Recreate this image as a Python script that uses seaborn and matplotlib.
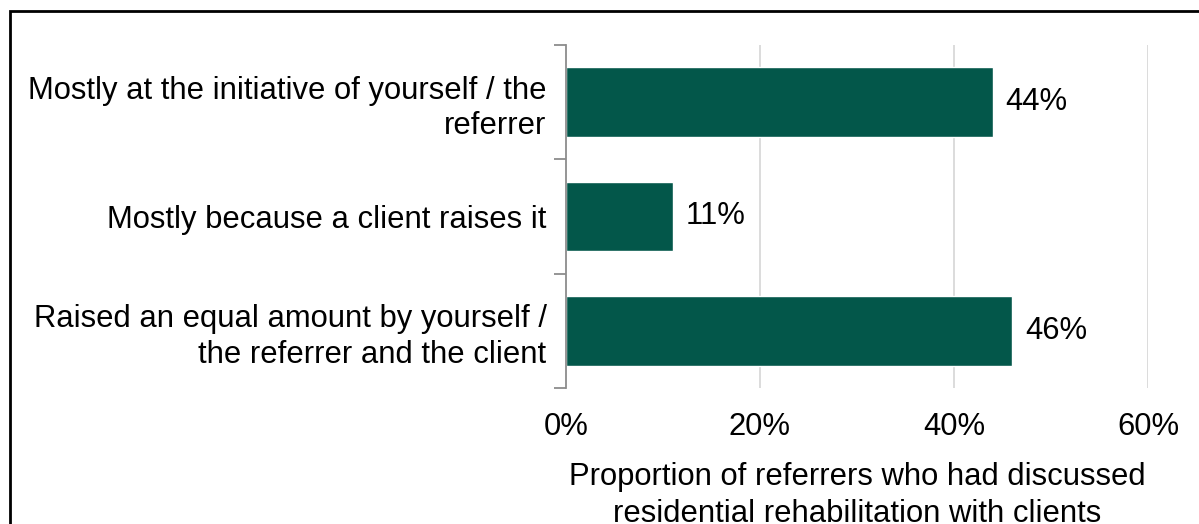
import matplotlib
matplotlib.use("Agg")
import matplotlib.pyplot as plt
from matplotlib.patches import Rectangle
from matplotlib.ticker import FuncFormatter
import seaborn as sns
import pandas as pd

categories = [
    "Mostly at the initiative of yourself / the\nreferrer",
    "Mostly because a client raises it",
    "Raised an equal amount by yourself /\nthe referrer and the client",
]
shares = [44, 11, 46]
x_ticks = [0, 20, 40, 60]
x_label = "Proportion of referrers who had discussed\nresidential rehabilitation with clients"

bar_color = "#03574A"
fs = 22.3

sns.set_theme(style="white")
plt.rcParams["font.family"] = ["Liberation Sans", "DejaVu Sans"]

df = pd.DataFrame({"category": categories, "share": shares})

fig = plt.figure(figsize=(11.99, 5.24), dpi=100)
ax = fig.add_axes([566 / 1199, 1 - 388 / 524, (1148 - 566) / 1199, (388 - 45) / 524])

sns.barplot(data=df, x="share", y="category", orient="h", color=bar_color,
            saturation=1, width=0.61, ax=ax)

ax.set_xlim(0, 60)
ax.set_ylim(2.5, -0.5)
ax.set_xticks(x_ticks)
ax.xaxis.set_major_formatter(FuncFormatter(lambda v, p: f"{v:.0f}%"))
ax.tick_params(axis="x", length=0, pad=17, labelsize=fs, colors="black")

# category ticks sit on the boundaries between bars
ax.set_yticks([-0.5, 0.5, 1.5, 2.5])
ax.set_yticklabels([])
ax.set_yticks(range(len(categories)), minor=True)
ax.set_yticklabels(categories, minor=True, fontsize=fs, ha="right",
                   linespacing=1.25)
ax.tick_params(axis="y", which="major", left=True, length=9, width=1.3,
               color="#8c8c8c", direction="out")
ax.tick_params(axis="y", which="minor", left=True, length=0, pad=14,
               colors="black")

for x in x_ticks[1:]:
    ax.axvline(x, color="#d9d9d9", lw=1.3, zorder=0)

for s in ["top", "right", "bottom"]:
    ax.spines[s].set_visible(False)
ax.spines["left"].set_color("#8c8c8c")
ax.spines["left"].set_linewidth(1.3)

ax.set_ylabel("")
ax.set_xlabel(x_label, fontsize=fs, labelpad=15, linespacing=1.3,
              color="black")

for i, v in enumerate(shares):
    ax.text(v + 1.3, i, f"{v}%", va="center", ha="left", fontsize=fs,
            color="black")

# chart frame (continues past the lower and right edges)
fig.patches.append(Rectangle((9.5 / 1199, -0.1), 1.2, 1.1 - 11.5 / 524,
                             transform=fig.transFigure, fill=False,
                             edgecolor="black", lw=2))

fig.savefig("out.png", dpi=100)
